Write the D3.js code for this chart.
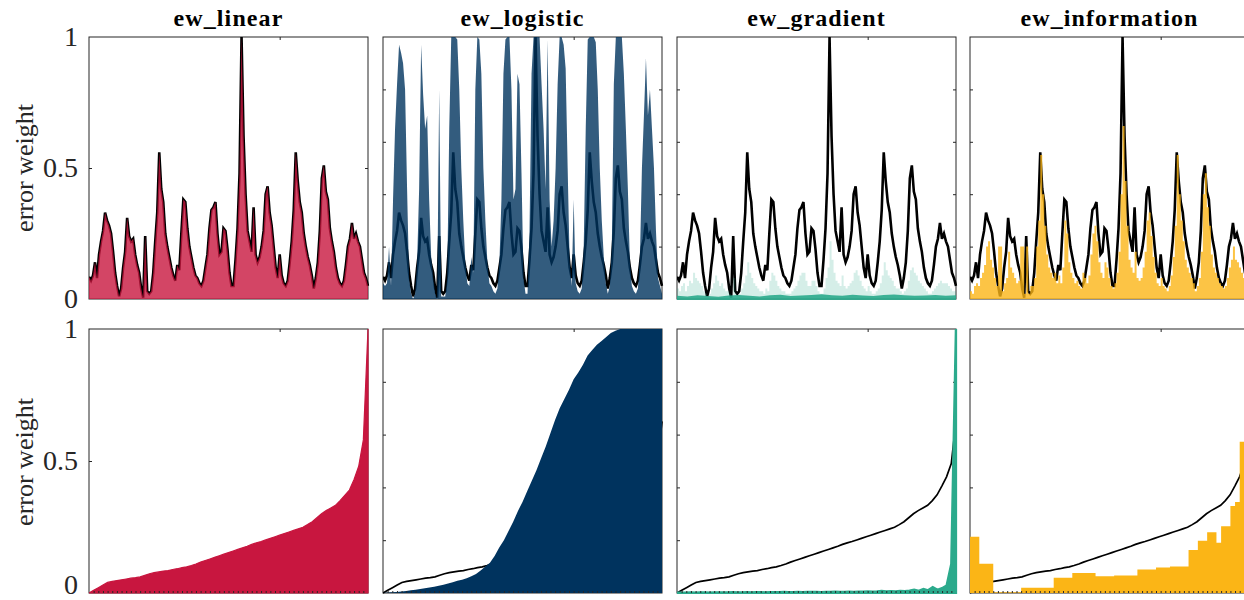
<!DOCTYPE html>
<html><head><meta charset="utf-8">
<script src="https://cdn.jsdelivr.net/npm/d3@7"></script>
<style>body{margin:0;background:#fff} svg{display:block}</style>
</head><body><svg id="chart" width="1244" height="600"></svg>
<script>
// ---------- data ----------
const titles = ["ew_linear", "ew_logistic", "ew_gradient", "ew_information"];
const colors = ["#C8163F", "#00335E", "#2BAA8C", "#FBB516"];
const yLabel = "error weight";
const yLabelTicks = [0, 0.5, 1];
const yLabelTickText = ["0", "0.5", "1"];
const yMinorTicks = [0.2, 0.4, 0.6, 0.8];
const topXTick = [95];      // index on top-row axis
const bottomXTick = [41];   // index on bottom-row axis

// top row: error series over time (black line) and weights per method
const errorSeries = [
  0.085,0.07,0.09,0.14,0.08,0.17,0.22,0.26,0.33,0.30,
  0.28,0.25,0.18,0.10,0.05,0.01,0.04,0.12,0.18,0.31,
  0.24,0.22,0.23,0.17,0.13,0.10,0.04,0.005,0.24,0.03,
  0.02,0.03,0.10,0.22,0.33,0.56,0.42,0.37,0.25,0.20,
  0.16,0.12,0.09,0.07,0.13,0.11,0.25,0.38,0.37,0.27,
  0.20,0.16,0.12,0.09,0.08,0.06,0.05,0.07,0.12,0.17,
  0.27,0.34,0.35,0.37,0.25,0.17,0.18,0.27,0.26,0.19,
  0.10,0.05,0.05,0.15,0.27,0.48,1.00,0.62,0.40,0.26,
  0.22,0.18,0.35,0.17,0.14,0.16,0.20,0.26,0.40,0.43,
  0.33,0.28,0.20,0.12,0.08,0.17,0.09,0.06,0.05,0.07,
  0.14,0.22,0.34,0.56,0.45,0.37,0.33,0.25,0.20,0.16,
  0.13,0.09,0.04,0.08,0.14,0.26,0.46,0.51,0.41,0.38,
  0.27,0.22,0.18,0.12,0.08,0.06,0.05,0.07,0.13,0.20,
  0.23,0.29,0.23,0.25,0.22,0.20,0.15,0.10,0.08,0.05
];
const linearSeries = errorSeries;
const logisticSeries = [
  0.06,0.05,0.06,0.20,0.05,0.38,0.65,0.82,0.97,0.94,
  0.90,0.80,0.42,0.08,0.02,0.00,0.02,0.14,0.42,0.97,
  0.78,0.65,0.70,0.38,0.16,0.08,0.02,0.00,0.80,0.01,
  0.01,0.01,0.08,0.65,1.00,1.00,1.00,0.99,0.80,0.50,
  0.30,0.14,0.06,0.05,0.16,0.10,0.80,1.00,0.99,0.86,
  0.50,0.30,0.14,0.06,0.05,0.03,0.02,0.04,0.14,0.38,
  0.86,0.99,1.00,1.00,0.80,0.38,0.42,0.86,0.82,0.48,
  0.08,0.02,0.02,0.26,0.86,1.00,1.00,1.00,1.00,0.82,
  0.65,0.42,0.99,0.38,0.20,0.30,0.50,0.82,1.00,1.00,
  0.97,0.88,0.50,0.14,0.05,0.38,0.06,0.03,0.02,0.04,
  0.20,0.65,0.99,1.00,1.00,1.00,0.98,0.80,0.50,0.30,
  0.16,0.06,0.02,0.05,0.20,0.82,1.00,1.00,1.00,1.00,
  0.86,0.65,0.42,0.14,0.05,0.03,0.02,0.04,0.16,0.50,
  0.70,0.92,0.70,0.80,0.65,0.50,0.26,0.08,0.05,0.02
];
const gradientSeries = [
  0.04,0.03,0.05,0.06,0.03,0.05,0.07,0.06,0.10,0.08,
  0.07,0.06,0.05,0.03,0.02,0.01,0.02,0.04,0.06,0.09,
  0.07,0.05,0.06,0.04,0.03,0.03,0.02,0.01,0.08,0.02,
  0.01,0.02,0.04,0.06,0.09,0.14,0.10,0.08,0.06,0.05,
  0.04,0.03,0.03,0.02,0.04,0.03,0.07,0.10,0.09,0.07,
  0.05,0.04,0.03,0.03,0.02,0.02,0.02,0.03,0.04,0.05,
  0.07,0.09,0.10,0.10,0.07,0.05,0.05,0.07,0.07,0.05,
  0.03,0.02,0.02,0.04,0.08,0.12,0.22,0.15,0.10,0.07,
  0.06,0.05,0.09,0.05,0.04,0.05,0.06,0.07,0.10,0.11,
  0.09,0.07,0.05,0.04,0.03,0.05,0.03,0.02,0.02,0.03,
  0.04,0.06,0.09,0.14,0.11,0.09,0.08,0.07,0.05,0.04,
  0.04,0.03,0.02,0.03,0.04,0.07,0.11,0.12,0.10,0.09,
  0.07,0.06,0.05,0.04,0.03,0.02,0.02,0.03,0.04,0.05,
  0.06,0.07,0.06,0.06,0.06,0.05,0.04,0.03,0.03,0.02
];
const gradientFloor = [
  0.012,0.010,0.014,0.011,0.009,0.013,0.015,0.012,0.010,0.014,
  0.016,0.011,0.013,0.015,0.018,0.014,0.012,0.016,0.013,0.011,
  0.015,0.017,0.014,0.012,0.013,0.015,0.012,0.014
];
const informationSeries = [
  0.03,0.02,0.05,0.06,0.05,0.08,0.10,0.13,0.20,0.22,
  0.15,0.12,0.08,0.05,0.20,0.20,0.03,0.06,0.08,0.18,
  0.12,0.10,0.08,0.06,0.07,0.20,0.20,0.02,0.20,0.02,
  0.05,0.05,0.08,0.20,0.30,0.55,0.40,0.28,0.17,0.12,
  0.10,0.08,0.10,0.06,0.09,0.06,0.12,0.30,0.25,0.14,
  0.10,0.08,0.06,0.07,0.05,0.04,0.10,0.08,0.06,0.09,
  0.17,0.25,0.28,0.22,0.14,0.10,0.08,0.14,0.12,0.08,
  0.05,0.04,0.06,0.10,0.18,0.40,0.66,0.45,0.28,0.15,
  0.12,0.10,0.18,0.08,0.07,0.08,0.12,0.18,0.30,0.33,
  0.24,0.16,0.10,0.06,0.05,0.08,0.05,0.04,0.03,0.05,
  0.09,0.16,0.28,0.55,0.40,0.30,0.22,0.15,0.12,0.10,
  0.08,0.06,0.03,0.05,0.08,0.18,0.40,0.48,0.35,0.28,
  0.17,0.12,0.10,0.08,0.06,0.05,0.04,0.05,0.08,0.12,
  0.15,0.20,0.15,0.14,0.12,0.10,0.08,0.06,0.05,0.04
];

// bottom row: sorted errors and sorted weights
const sortedError = [
  0.0,0.01,0.02,0.03,0.04,0.044,0.047,0.05,0.053,0.056,
  0.058,0.061,0.067,0.073,0.077,0.08,0.083,0.085,0.089,0.092,
  0.096,0.099,0.104,0.11,0.117,0.123,0.129,0.135,0.141,0.147,
  0.153,0.159,0.165,0.171,0.177,0.184,0.19,0.195,0.201,0.207,
  0.213,0.219,0.225,0.231,0.237,0.243,0.249,0.259,0.27,0.285,
  0.30,0.312,0.322,0.332,0.35,0.372,0.405,0.44,0.49,0.65
];
const sortedLinear = [
  0.0,0.01,0.02,0.03,0.04,0.044,0.047,0.05,0.053,0.056,
  0.058,0.061,0.067,0.073,0.077,0.08,0.083,0.085,0.089,0.092,
  0.096,0.099,0.104,0.11,0.117,0.123,0.129,0.135,0.141,0.147,
  0.153,0.159,0.165,0.171,0.177,0.184,0.19,0.195,0.201,0.207,
  0.213,0.219,0.225,0.231,0.237,0.243,0.249,0.259,0.27,0.285,
  0.30,0.312,0.322,0.332,0.35,0.37,0.39,0.43,0.48,0.58,
  1.0
];
const sortedLogistic = [
  0.0,0.002,0.003,0.004,0.006,0.008,0.01,0.012,0.015,0.018,
  0.021,0.024,0.027,0.031,0.036,0.041,0.046,0.05,0.056,0.063,
  0.072,0.085,0.1,0.115,0.14,0.172,0.2,0.235,0.27,0.31,
  0.345,0.385,0.425,0.465,0.51,0.555,0.605,0.655,0.7,0.735,
  0.77,0.81,0.835,0.865,0.9,0.92,0.94,0.955,0.97,0.985,
  0.993,1.0,1.0,1.0,1.0,1.0,1.0,1.0,1.0,1.0,
  1.0
];
const sortedGradient = [
  0.001,0.001,0.001,0.002,0.001,0.002,0.002,0.001,0.002,0.002,
  0.002,0.002,0.003,0.002,0.002,0.003,0.002,0.003,0.003,0.002,
  0.003,0.003,0.003,0.004,0.003,0.003,0.004,0.003,0.004,0.004,
  0.004,0.003,0.004,0.004,0.005,0.004,0.004,0.005,0.004,0.005,
  0.005,0.006,0.005,0.006,0.008,0.006,0.007,0.006,0.008,0.007,
  0.009,0.012,0.008,0.015,0.010,0.022,0.012,0.018,0.028,0.11,
  1.0
];
const sortedInformation = [
  0.213,0.213,0.111,0.111,0.111,0.003,0.003,0.003,0.003,0.003,
  0.003,0.02,0.02,0.02,0.02,0.02,0.02,0.02,0.058,0.058,
  0.058,0.058,0.076,0.076,0.076,0.076,0.076,0.063,0.063,0.063,
  0.063,0.066,0.066,0.066,0.066,0.066,0.089,0.089,0.089,0.089,
  0.097,0.097,0.097,0.10,0.10,0.10,0.10,0.163,0.163,0.198,
  0.198,0.23,0.23,0.19,0.253,0.253,0.33,0.345,0.573,0.573,
  0.573
];

// ---------- layout ----------
const lefts = [89, 383, 677, 970];
const pw = 279;
const rows = [{top: 37, bottom: 299, labelY: 168}, {top: 329, bottom: 593, labelY: 462}];
const topFills = [linearSeries, logisticSeries, gradientSeries, informationSeries];
const bottomFills = [sortedLinear, sortedLogistic, sortedGradient, sortedInformation];
const bottomCurves = [d3.curveLinear, d3.curveLinear, d3.curveLinear, d3.curveStepAfter];
const axisColor = "#262626";
const serif = "'Liberation Serif','Times New Roman',serif";

const svg = d3.select("#chart");
const defs = svg.append("defs");

titles.forEach((t, c) => {
  svg.append("text")
    .attr("x", lefts[c] + pw / 2).attr("y", 26)
    .attr("text-anchor", "middle")
    .attr("font-family", serif).attr("font-weight", "bold")
    .attr("font-size", 24).attr("letter-spacing", 1.1)
    .attr("fill", "#000").text(t);
});

rows.forEach((row, r) => {
  lefts.forEach((L, c) => {
    const y = d3.scaleLinear().domain([0, 1]).range([row.bottom, row.top]);
    const g = svg.append("g");
    const clipId = `clip-${r}-${c}`;
    defs.append("clipPath").attr("id", clipId).append("rect")
      .attr("x", L).attr("y", row.top - 1).attr("width", pw + 1.5).attr("height", row.bottom - row.top + 2);

    // box
    g.append("rect").attr("x", L).attr("y", row.top).attr("width", pw).attr("height", row.bottom - row.top)
      .attr("fill", "none").attr("stroke", axisColor).attr("stroke-width", 1);

    // y ticks (left + right)
    const yt = c === 0 ? [0.5] : yMinorTicks;
    const leftAxis = d3.axisLeft(y).tickValues(yt).tickSize(-3).tickFormat("");
    const rightAxis = d3.axisRight(y).tickValues(yt).tickSize(-3).tickFormat("");
    const la = g.append("g").attr("transform", `translate(${L},0)`).call(leftAxis);
    const ra = g.append("g").attr("transform", `translate(${L + pw},0)`).call(rightAxis);
    [la, ra].forEach(a => { a.select(".domain").remove(); a.selectAll("line").attr("stroke", axisColor); });

    // labels for first column
    if (c === 0) {
      const lab = d3.axisLeft(y).tickValues(yLabelTicks).tickSize(0).tickPadding(11)
        .tickFormat((d, i) => yLabelTickText[i]);
      const lg = g.append("g").attr("transform", `translate(${L},0)`).call(lab);
      lg.select(".domain").remove();
      lg.selectAll("text").attr("font-family", serif).attr("font-size", 28).attr("fill", axisColor);
      if (r === 1) lg.selectAll("text").filter(d => d === 0).attr("dy", "0.03em");
      svg.append("text")
        .attr("transform", `translate(33,${row.labelY}) rotate(-90)`)
        .attr("text-anchor", "middle")
        .attr("font-family", serif).attr("font-size", 26).attr("fill", axisColor)
        .text(yLabel);
    }

    const dataG = g.append("g").attr("clip-path", `url(#${clipId})`);

    if (r === 0) {
      const x = d3.scaleLinear().domain([0, errorSeries.length - 1]).range([L, L + pw]);
      const ta = g.append("g").attr("transform", `translate(0,${row.top})`)
        .call(d3.axisTop(x).tickValues(topXTick).tickSize(-3).tickFormat(""));
      ta.select(".domain").remove(); ta.selectAll("line").attr("stroke", axisColor);

      const line = d3.line().x((d, i) => x(i)).y(d => y(d));
      dataG.append("path").datum(errorSeries).attr("d", line)
        .attr("fill", "none").attr("stroke", "#000").attr("stroke-width", 2.6).attr("stroke-linejoin", "miter");

      const vals = topFills[c];
      const xs = d3.scaleLinear().domain([0, vals.length - 1]).range([L, L + pw]);
      if (c === 2) {
        const areaG = d3.area().x((d, i) => xs(i)).y0(y(0)).y1(d => y(d)).curve(d3.curveStepAfter);
        dataG.append("path").datum(vals).attr("d", areaG).attr("fill", colors[c]).attr("fill-opacity", 0.2);
        const xf = d3.scaleLinear().domain([0, gradientFloor.length - 1]).range([L, L + pw]);
        const areaF = d3.area().x((d, i) => xf(i)).y0(y(0) + 1).y1(d => y(d));
        dataG.append("path").datum(gradientFloor).attr("d", areaF).attr("fill", colors[c]).attr("fill-opacity", 0.9);
      } else {
        const area = d3.area().x((d, i) => xs(i)).y0(y(0)).y1(d => y(d))
          .curve(c === 3 ? d3.curveStepAfter : d3.curveLinear);
        dataG.append("path").datum(vals).attr("d", area).attr("fill", colors[c]).attr("fill-opacity", 0.8);
      }
    } else {
      const vals = bottomFills[c];
      const xs = d3.scaleLinear().domain([0, vals.length - 1]).range([L, L + pw]);
      const ta = g.append("g").attr("transform", `translate(0,${row.top})`)
        .call(d3.axisTop(xs).tickValues(bottomXTick).tickSize(-3).tickFormat(""));
      ta.select(".domain").remove(); ta.selectAll("line").attr("stroke", axisColor);
      const ba = g.append("g").attr("transform", `translate(0,${row.bottom})`)
        .call(d3.axisBottom(xs).tickValues(d3.range(1, vals.length - 1)).tickSize(-2).tickFormat(""));
      ba.select(".domain").remove(); ba.selectAll("line").attr("stroke", axisColor);

      if (c !== 0) {
        const xl = d3.scaleLinear().domain([0, sortedError.length - 1]).range([L, L + pw]);
        const line = d3.line().x((d, i) => xl(i)).y(d => y(d));
        dataG.append("path").datum(sortedError).attr("d", line)
          .attr("fill", "none").attr("stroke", "#000").attr("stroke-width", 1.7);
      }
      const area = d3.area().x((d, i) => xs(i)).y0(y(0)).y1(d => y(d)).curve(bottomCurves[c]);
      const p = dataG.append("path").datum(vals).attr("d", area).attr("fill", colors[c]);
      if (c === 0 || c === 2) p.attr("stroke", colors[c]).attr("stroke-width", c === 2 ? 2.5 : 1.2);
    }
  });
});
</script></body></html>
